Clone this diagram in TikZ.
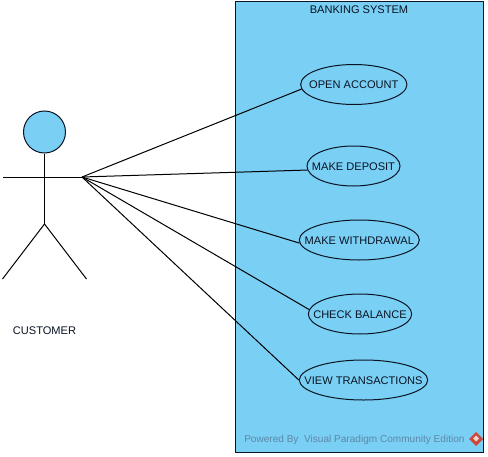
\documentclass[tikz,border=0pt]{standalone}
\usepackage{fontspec}
\setmainfont{Liberation Sans}
\usetikzlibrary{shapes.geometric}
\definecolor{vpblue}{RGB}{122,207,245}
\definecolor{vpink}{RGB}{10,20,35}
\definecolor{vpmark}{RGB}{95,135,165}
\definecolor{vpred}{RGB}{205,70,60}
\tikzset{
  lbl/.style={font=\fontsize{8.3}{10}\selectfont,text=vpink},
  usecase/.style={ellipse,draw=vpink,line width=0.75pt,inner sep=0pt,minimum height=30pt,
    label={[lbl,yshift=-0.3pt]center:#1}},
  limb/.style={draw=black,line width=0.75pt},
  assoc/.style={draw=black,line width=0.75pt}
}
\begin{document}
\begin{tikzpicture}[x=0.75pt,y=-0.75pt]
\useasboundingbox (0,0) rectangle (488,456);
\fill[white] (0,0) rectangle (488,456);
\draw[fill=vpblue,draw=vpink,line width=0.75pt] (235,2) rectangle (483,452);
\node[lbl] (title) at (359,10) {BANKING SYSTEM};
\node[usecase={OPEN ACCOUNT},minimum width=79.7pt] (open) at (353.8,84.5) {};
\node[usecase={MAKE DEPOSIT},minimum width=69.8pt] (deposit) at (353.5,166) {};
\node[usecase={MAKE WITHDRAWAL},minimum width=90pt] (withdraw) at (359.3,240) {};
\node[usecase={CHECK BALANCE},minimum width=77.5pt] (balance) at (360,314) {};
\node[usecase={VIEW TRANSACTIONS},minimum width=96.3pt] (view) at (363.5,380) {};
% actor
\node[circle,draw=vpink,fill=vpblue,line width=0.75pt,minimum size=31.5pt,inner sep=0pt] (head) at (44.5,132) {};
\coordinate (crotch) at (44.5,224);
\coordinate (armL) at (3,177);
\coordinate (hand) at (82,177);
\coordinate (footL) at (2.5,279);
\coordinate (footR) at (86.5,279);
\draw[limb] (head.south) -- (crotch);
\draw[limb] (armL) -- (hand);
\draw[limb] (footL) -- (crotch) -- (footR);
\node[lbl] (actor) at (44.5,330.5) {CUSTOMER};
% associations
\draw[assoc] (hand) -- (open.185);
\draw[assoc] (hand) -- (deposit.185);
\draw[assoc] (hand) -- (withdraw.183);
\draw[assoc] (hand) -- (balance.175);
\draw[assoc] (hand) -- (view.west);
% watermark
\node[anchor=west,font=\fontsize{7.55}{10}\selectfont,text=vpmark,inner sep=0pt] (wm) at (244,440) {Powered By\ \ Visual Paradigm Community Edition};
\fill[vpred] (476,432) -- (483,439) -- (476,446) -- (469,439) -- cycle;
\fill[white!75!vpred] (476,435.5) -- (479,438.5) -- (476,441.5) -- (473,438.5) -- cycle;
\end{tikzpicture}
\end{document}
